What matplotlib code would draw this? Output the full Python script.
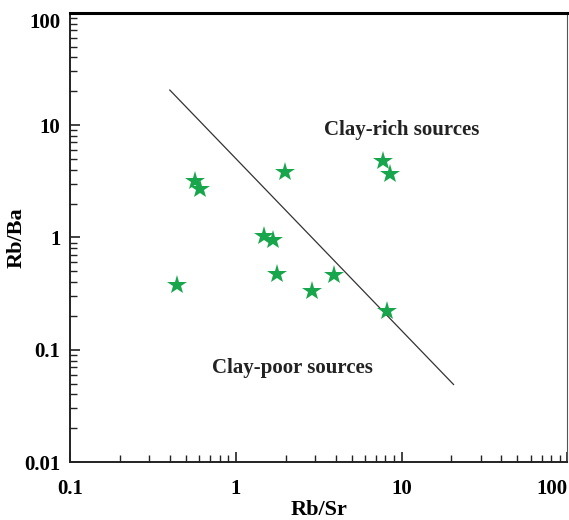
import matplotlib
matplotlib.use("Agg")
import matplotlib.pyplot as plt
from matplotlib.ticker import LogLocator, NullFormatter, FixedLocator, FixedFormatter

# Data
rb_sr = [0.44, 0.566, 0.606, 1.48, 1.67, 1.97, 1.77, 2.87, 3.89, 7.77, 8.55, 8.13]
rb_ba = [0.38, 3.16, 2.68, 1.02, 0.94, 3.8, 0.47, 0.33, 0.46, 4.77, 3.65, 0.22]

# Boundary line
line_x = [0.40, 20.6]
line_y = [20.5, 0.049]

x_ticks = [0.1, 1, 10, 100]
x_labels = ["0.1", "1", "10", "100"]
y_ticks = [0.01, 0.1, 1, 10, 100]
y_labels = ["0.01", "0.1", "1", "10", "100"]

plt.rcParams["font.family"] = ["Liberation Serif", "DejaVu Serif"]
plt.rcParams["font.weight"] = "bold"

fig = plt.figure(figsize=(5.69, 5.2), dpi=100)
ax = fig.add_axes([0.123, 0.1115, 0.874, 0.864])

ax.plot(line_x, line_y, color="#333333", lw=0.9)
ax.plot(rb_sr, rb_ba, linestyle="none", marker="*", markersize=15,
        color="#17a64b", markeredgewidth=0)

ax.set_xscale("log")
ax.set_yscale("log")
ax.set_xlim(0.1, 100)
ax.set_ylim(0.01, 100)

ax.xaxis.set_major_locator(FixedLocator(x_ticks))
ax.xaxis.set_major_formatter(FixedFormatter(x_labels))
ax.yaxis.set_major_locator(FixedLocator(y_ticks))
ax.yaxis.set_major_formatter(FixedFormatter(y_labels))
ax.xaxis.set_minor_locator(LogLocator(base=10, subs=range(2, 10)))
ax.yaxis.set_minor_locator(LogLocator(base=10, subs=range(2, 10)))
ax.xaxis.set_minor_formatter(NullFormatter())
ax.yaxis.set_minor_formatter(NullFormatter())

ax.tick_params(which="both", direction="in", top=False, right=False, color="#222222")
ax.tick_params(which="major", length=7, width=1.2, labelsize=15)
ax.tick_params(axis="y", which="major", pad=7)
ax.tick_params(axis="x", which="major", pad=12)
ax.tick_params(which="minor", length=5, width=1.0)

# edge labels kept inside the figure, as in the original
fig.canvas.draw()
ax.get_xticklabels()[-1].set_horizontalalignment("right")
ax.get_yticklabels()[-1].set_verticalalignment("top")

for side in ["left", "bottom"]:
    ax.spines[side].set_linewidth(1.4)
    ax.spines[side].set_color("#222222")
ax.spines["top"].set_linewidth(2.2)
ax.spines["top"].set_color("black")
ax.spines["right"].set_linewidth(0.8)
ax.spines["right"].set_color("#555555")

ax.set_xlabel("Rb/Sr", fontsize=16, fontweight="bold")
ax.set_ylabel("Rb/Ba", fontsize=16, fontweight="bold")
ax.xaxis.set_label_coords(0.5, -0.085)
ax.yaxis.set_label_coords(-0.088, 0.5)

ax.text(10, 9.0, "Clay-rich sources", fontsize=15, fontweight="bold",
        ha="center", va="center", color="#222222")
ax.text(2.2, 0.069, "Clay-poor sources", fontsize=15, fontweight="bold",
        ha="center", va="center", color="#222222")

fig.savefig("out.png", dpi=100)
